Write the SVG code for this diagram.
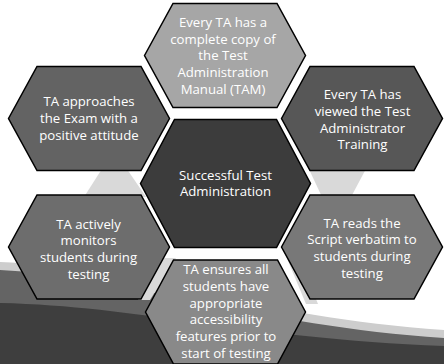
<svg xmlns="http://www.w3.org/2000/svg" width="444" height="364" viewBox="0 0 444 364">
<style>
.hex{stroke:#000;stroke-width:1.5;stroke-linejoin:miter}
.lbl{font-family:"Open Sans","Noto Sans",sans-serif;font-size:13.2px;fill:#fff;text-anchor:middle}
.bg{fill:#d9d9d9}
</style>
<rect width="444" height="364" fill="#fff"/>
<g id="background">
<polygon class="bg" points="114,150 146,197 84,197"/>
<polygon class="bg" points="307,165 368,165 351,197 322,197"/>
<path d="M0,262 C120,265 260,318 444,330 V364 H0 Z" fill="#cdcdcd"/>
<path d="M0,270 C120,276 260,326 444,338 V364 H0 Z" fill="#646464"/>
<path d="M0,303 C140,306 240,338 444,346 V364 H0 Z" fill="#3e3e3e"/>
<polygon class="bg" points="150,258 176,258 150,300 138,300"/>
<polygon class="bg" points="283,249 296,249 318,304 306,304"/>
</g>
<g id="connectors"></g>
<g id="node-top">
<polygon class="hex" fill="#a6a6a6" points="144.5,55.5 173,3.5 277,3.5 305.5,55.5 277,107.5 173,107.5"/>
<text class="lbl" y="26.7"><tspan x="223">Every TA has a</tspan><tspan x="223" dy="16.8">complete copy of</tspan><tspan x="223" dy="16.8">the Test</tspan><tspan x="223" dy="16.8">Administration</tspan><tspan x="223" dy="16.8">Manual (TAM)</tspan></text>
</g>
<g id="node-upper-left">
<polygon class="hex" fill="#636363" points="8.5,118.5 37,66.5 141,66.5 169.5,118.5 141,170.5 37,170.5"/>
<text class="lbl" y="106.4"><tspan x="89">TA approaches</tspan><tspan x="89" dy="16.8">the Exam with a</tspan><tspan x="89" dy="16.8">positive attitude</tspan></text>
</g>
<g id="node-upper-right">
<polygon class="hex" fill="#575757" points="281.5,118.5 310,66.5 414,66.5 442.5,118.5 414,170.5 310,170.5"/>
<text class="lbl" y="99"><tspan x="362.5">Every TA has</tspan><tspan x="362.5" dy="16.8">viewed the Test</tspan><tspan x="362.5" dy="16.8">Administrator</tspan><tspan x="362.5" dy="16.8">Training</tspan></text>
</g>
<g id="node-center">
<polygon class="hex" fill="#3c3c3c" points="140.5,183.5 174.5,119.5 276.5,119.5 310.5,183.5 276.5,247.5 174.5,247.5"/>
<text class="lbl" y="179.6"><tspan x="225.5">Successful Test</tspan><tspan x="225.5" dy="16.8">Administration</tspan></text>
</g>
<g id="node-lower-left">
<polygon class="hex" fill="#6d6d6d" points="8.5,247 37,195 141,195 169.5,247 141,299 37,299"/>
<text class="lbl" y="228.5"><tspan x="88.5">TA actively</tspan><tspan x="88.5" dy="16.8">monitors</tspan><tspan x="88.5" dy="16.8">students during</tspan><tspan x="88.5" dy="16.8">testing</tspan></text>
</g>
<g id="node-lower-right">
<polygon class="hex" fill="#787878" points="281.5,247 310,195 414,195 442.5,247 414,299 310,299"/>
<text class="lbl" y="227.5"><tspan x="362">TA reads the</tspan><tspan x="362" dy="16.8">Script verbatim to</tspan><tspan x="362" dy="16.8">students during</tspan><tspan x="362" dy="16.8">testing</tspan></text>
</g>
<g id="node-bottom">
<polygon class="hex" fill="#898989" points="145.5,312 173.5,260 277.5,260 305.5,312 277.5,364 173.5,364"/>
<text class="lbl" y="274"><tspan x="226">TA ensures all</tspan><tspan x="226" dy="16.8">students have</tspan><tspan x="226" dy="16.8">appropriate</tspan><tspan x="226" dy="16.8">accessibility</tspan><tspan x="226" dy="16.8">features prior to</tspan><tspan x="226" dy="16.8">start of testing</tspan></text>
</g>
</svg>
